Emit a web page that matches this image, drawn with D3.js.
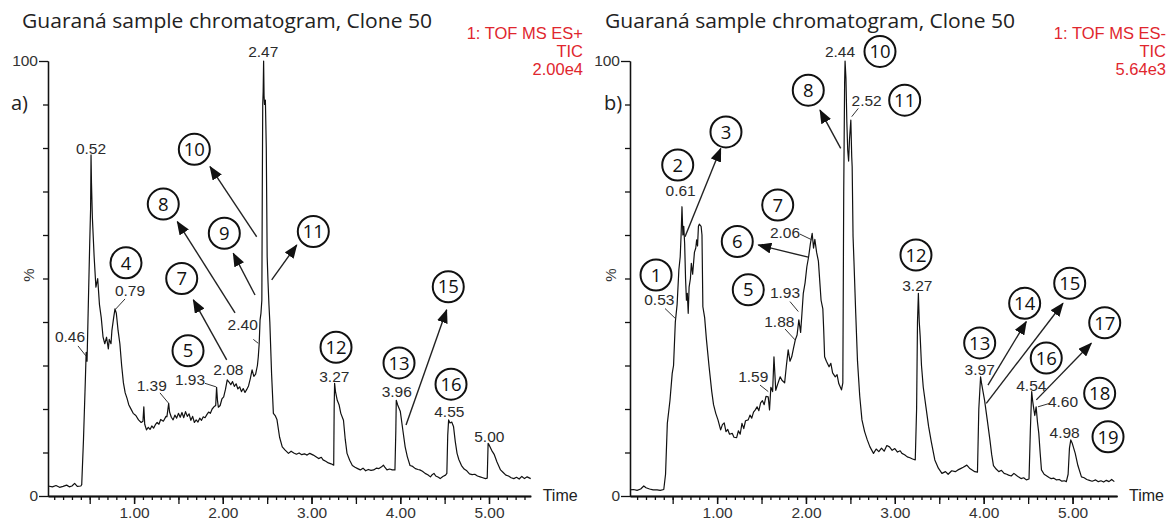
<!DOCTYPE html>
<html>
<head>
<meta charset="utf-8">
<script src="https://cdn.jsdelivr.net/npm/d3@7"></script>
<style>
  body { margin: 0; background: #fff; }
  svg { display: block; }
</style>
</head>
<body>
<div id="chart"></div>
<script>
// ---- data: [time (min), intensity (%)] ----
const traceA = [
  [0.03,2.3],[0.08,2.1],[0.12,2.4],[0.16,2.0],[0.20,2.2],[0.24,2.5],[0.27,2.1],[0.30,2.3],[0.33,2.9],[0.36,2.2],
  [0.40,2.3],[0.41,2.6],[0.43,13],[0.45,26],[0.46,33],[0.47,31],[0.48,40],[0.50,58],[0.51,66],[0.515,78.4],
  [0.52,72],[0.53,64],[0.55,55],[0.57,48],[0.59,50],[0.61,44],[0.63,41],[0.65,36.6],[0.67,35],[0.69,36.5],
  [0.71,33.8],[0.72,36],[0.74,35],[0.75,38],[0.77,41],[0.785,43],[0.80,42],[0.82,38],[0.84,35],[0.86,30],
  [0.88,26],[0.90,23.7],[0.92,22.5],[0.94,21],[0.96,20.2],[0.99,19],[1.02,18.5],[1.05,17.5],[1.08,16.9],[1.10,17.2],
  [1.11,20.5],[1.12,16.5],[1.14,15.2],[1.16,15.8],[1.18,15.3],[1.20,16.1],[1.22,15.6],[1.24,16.4],[1.26,16.9],[1.28,16.5],
  [1.30,17.6],[1.33,17.2],[1.36,18.3],[1.37,18.2],[1.39,21.3],[1.40,19.3],[1.42,18.1],[1.44,17.5],[1.46,18.6],[1.48,17.9],
  [1.50,19.0],[1.52,18.1],[1.54,19.2],[1.56,18.0],[1.58,19.4],[1.60,18.3],[1.62,18.9],[1.64,17.4],[1.66,18.3],[1.68,16.9],
  [1.70,17.5],[1.72,17.0],[1.74,17.9],[1.76,17.4],[1.78,18.2],[1.80,18.0],[1.82,18.7],[1.84,19.3],[1.86,19.0],[1.88,20.0],
  [1.90,20.5],[1.92,20.8],[1.93,25],[1.94,22],[1.95,20.4],[1.97,20.8],[1.99,22.3],[2.01,22.8],[2.03,24.5],[2.05,26.7],
  [2.07,26.2],[2.09,25.6],[2.11,26.3],[2.13,25.2],[2.15,25.8],[2.17,24.6],[2.19,25.1],[2.21,24.0],[2.23,24.7],[2.25,23.8],
  [2.27,24.5],[2.29,25.3],[2.31,27],[2.33,29],[2.35,27.5],[2.37,28],[2.39,30],[2.40,32],[2.41,35],[2.42,40.5],
  [2.43,42],[2.44,45],[2.445,70],[2.45,90],[2.455,93],[2.46,100],[2.465,92],[2.47,90],[2.48,91],[2.49,80],
  [2.50,55],[2.51,49],[2.52,44],[2.53,40],[2.55,28],[2.57,19],[2.59,18.5],[2.61,17.6],[2.64,13.5],[2.67,11.3],
  [2.70,10.6],[2.72,10.2],[2.74,9.8],[2.77,10.3],[2.80,9.9],[2.83,9.6],[2.86,9.9],[2.89,9.5],[2.92,9.7],[2.95,9.4],
  [2.98,9.8],[3.02,9.4],[3.05,9.0],[3.08,8.6],[3.11,8.9],[3.13,8.3],[3.16,8.0],[3.19,7.6],[3.22,7.4],[3.25,7.1],
  [3.255,20],[3.26,25.9],[3.27,24],[3.29,22],[3.31,21],[3.33,19],[3.36,17.4],[3.38,13],[3.40,9.8],[3.43,8.2],
  [3.46,7.0],[3.49,6.6],[3.52,6.3],[3.55,6.0],[3.58,6.4],[3.61,5.8],[3.64,6.1],[3.67,5.9],[3.70,6.0],[3.73,6.4],
  [3.76,6.3],[3.79,6.7],[3.81,7.1],[3.83,6.5],[3.85,6.0],[3.88,6.2],[3.91,6.0],[3.94,6.0],[3.95,15],[3.955,22],
  [3.97,21],[4.00,19.5],[4.03,15],[4.055,11.3],[4.08,9],[4.11,7.0],[4.14,6.8],[4.17,6.3],[4.20,6.1],[4.22,6.0],
  [4.25,5.7],[4.28,5.2],[4.31,4.9],[4.34,4.4],[4.36,4.9],[4.38,5.2],[4.40,4.6],[4.43,4.3],[4.45,4.0],[4.48,4.5],
  [4.51,4.8],[4.525,5.2],[4.535,14],[4.545,17.5],[4.56,16.8],[4.58,17.0],[4.60,16],[4.62,12.5],[4.64,9.8],[4.66,8.4],
  [4.69,7.0],[4.72,6.2],[4.75,5.8],[4.78,5.1],[4.81,4.9],[4.84,5.0],[4.87,4.6],[4.90,4.4],[4.93,4.2],[4.96,4.0],
  [4.98,4.1],[4.99,12.1],[5.00,11.8],[5.03,10.5],[5.06,9.5],[5.09,7.8],[5.13,6.0],[5.16,5.4],[5.19,4.8],[5.22,4.6],
  [5.25,4.2],[5.28,4.0],[5.31,4.3],[5.34,3.9],[5.37,4.5],[5.40,4.0],[5.43,4.4],[5.47,4.0]
];

const traceB = [
  [0.02,1.4],[0.06,1.5],[0.10,1.3],[0.14,1.6],[0.175,2.3],[0.20,1.9],[0.24,1.6],[0.28,1.4],[0.325,1.4],[0.36,1.3],
  [0.40,1.5],[0.42,5],[0.44,16.7],[0.47,22],[0.495,28.2],[0.51,30],[0.53,40],[0.55,44],[0.57,52],[0.585,55],
  [0.595,60],[0.605,66.5],[0.615,60],[0.625,62],[0.635,58],[0.645,50],[0.655,45],[0.665,46.6],[0.675,42],[0.685,48],
  [0.70,50],[0.71,53.5],[0.725,51],[0.745,56],[0.76,57],[0.77,58.9],[0.78,57.5],[0.79,62],[0.80,62.5],[0.82,62],
  [0.83,60],[0.84,43.5],[0.86,41],[0.88,36],[0.91,29.7],[0.94,24],[0.96,21],[0.985,19],[1.01,17.5],[1.04,15.2],
  [1.06,16.4],[1.08,16.8],[1.10,14.8],[1.12,15.3],[1.14,14.2],[1.17,14.4],[1.19,13.5],[1.22,13.4],[1.24,15.0],[1.26,14.2],
  [1.28,16.7],[1.30,15.5],[1.32,17.3],[1.35,17.5],[1.37,18.6],[1.39,17.9],[1.41,19.3],[1.43,19.8],[1.45,20.5],[1.47,19.6],
  [1.49,21.4],[1.51,21.9],[1.53,21.0],[1.55,22.9],[1.575,22.8],[1.59,19.8],[1.605,25],[1.625,24],[1.64,32],[1.66,24.3],
  [1.68,25.6],[1.71,27.4],[1.73,26.6],[1.76,26],[1.78,30],[1.80,33.6],[1.82,31],[1.84,32],[1.86,34],[1.88,35.9],
  [1.90,37],[1.92,40.5],[1.94,37.6],[1.955,42],[1.97,46.6],[1.99,49],[2.01,52.7],[2.03,55],[2.05,58],[2.07,60.4],
  [2.085,57],[2.10,59],[2.12,56],[2.14,54],[2.16,48],[2.17,45],[2.19,43],[2.20,38],[2.21,32],[2.23,31],
  [2.26,29.7],[2.28,30.5],[2.30,28.3],[2.33,27.4],[2.35,27.9],[2.37,25.8],[2.40,24.4],[2.415,26],[2.425,70],[2.435,95],
  [2.44,100],[2.45,96],[2.46,86],[2.47,79.5],[2.48,77],[2.49,82],[2.505,86.4],[2.515,78],[2.52,75.7],[2.53,59.6],
  [2.54,54],[2.56,42],[2.58,31],[2.605,23],[2.63,17.5],[2.66,14.8],[2.69,12.9],[2.72,11.3],[2.76,9.8],[2.79,10.8],
  [2.82,10.2],[2.85,11.0],[2.88,10.3],[2.91,11.6],[2.94,11.3],[2.97,10.5],[3.00,10.9],[3.03,10.1],[3.06,10.4],[3.08,9.8],
  [3.11,9.5],[3.14,9.0],[3.17,8.8],[3.20,8.5],[3.23,8.3],[3.245,20],[3.255,40],[3.265,46.6],[3.275,40],[3.285,36.8],
  [3.30,30],[3.32,25],[3.35,20.5],[3.38,16],[3.41,12.5],[3.45,8.3],[3.49,6.4],[3.53,5.2],[3.57,5.6],[3.60,5.0],
  [3.64,5.8],[3.68,5.6],[3.71,6.0],[3.74,6.3],[3.77,6.6],[3.81,7.1],[3.84,6.4],[3.87,6.0],[3.90,5.6],[3.93,5.5],
  [3.945,20],[3.965,27.4],[3.975,26],[4.01,22],[4.04,17.5],[4.07,12.9],[4.09,9.5],[4.11,7.0],[4.14,6.2],[4.17,5.6],
  [4.20,5.9],[4.23,5.2],[4.26,5.0],[4.28,4.8],[4.31,4.6],[4.34,5.2],[4.37,4.7],[4.39,4.4],[4.42,4.0],[4.45,4.2],
  [4.48,3.7],[4.51,3.9],[4.525,15],[4.54,24],[4.55,22],[4.565,19.8],[4.575,18.5],[4.59,20.5],[4.605,17],[4.62,14.4],
  [4.635,10],[4.65,6],[4.68,5.0],[4.71,4.6],[4.74,4.2],[4.76,4.0],[4.79,4.1],[4.82,3.7],[4.85,3.8],[4.88,3.4],
  [4.91,3.5],[4.93,3.3],[4.95,5],[4.965,11],[4.98,12.9],[4.995,12.2],[5.03,9.8],[5.06,7.0],[5.10,4.4],[5.13,4.2],
  [5.16,3.8],[5.19,3.6],[5.22,3.4],[5.26,3.7],[5.29,3.3],[5.32,3.5],[5.35,3.2],[5.38,3.6],[5.41,3.3],[5.44,3.8],[5.47,3.3]
];

// retention-time labels: [text, time, %]
const peaksA = [
  ['0.52',0.515,79.9],['0.46',0.278,36.6],['0.79',0.954,47.2],['1.39',1.199,25.5],['1.93',1.630,26.8],
  ['2.08',2.062,29.1],['2.40',2.224,39.5],['2.47',2.456,102.1],['3.27',3.257,27.6],['3.96',3.960,24.0],
  ['4.55',4.553,19.4],['5.00',5.004,13.8]
];
const peaksB = [
  ['0.53',0.350,45.1],['0.61',0.590,70.2],['2.06',1.764,60.5],['1.93',1.764,46.7],['1.88',1.700,40.1],
  ['1.59',1.407,27.6],['2.44',2.383,102.1],['2.52',2.683,91.0],['3.27',3.253,48.5],['3.97',3.955,29.1],
  ['4.54',4.536,25.5],['4.60',4.892,21.7],['4.98',4.911,14.6]
];

// small leader strokes from a label to its peak: [t1, %1, t2, %2]
const leadersA = [
  [0.368,34.5,0.458,32.2],[0.898,45.3,0.785,42.8],[1.292,23.7,1.386,21.4],
  [1.799,25.9,1.923,25.1],[2.344,36.0,2.400,35.1]
];
const leadersB = [
  [0.414,43.1,0.526,40.9],[1.933,60.2,2.065,58.9],[1.820,44.7,1.914,42.4],[1.764,38.4,1.877,35.9],
  [1.483,25.5,1.576,24.0],[2.589,89.1,2.515,87.2],[4.743,21.3,4.611,20.5]
];

// compound arrows: [from t, from %, tip t, tip %]
const arrowsA = [
  [2.382,59.6,1.856,75.7],[2.138,42.1,1.487,63.1],[2.363,46.2,2.118,55.8],
  [2.551,49.7,2.833,57.7],[2.044,31.3,1.668,45.1],[4.065,16.3,4.523,42.8]
];
const arrowsB = [
  [0.639,59.6,1.041,79.9],[2.026,54.9,1.464,57.7],[2.391,79.9,2.158,88.7],
  [4.048,25.5,4.479,40.1],[4.029,21.3,4.892,44.3],[4.592,22.1,5.211,35.1]
];

// circled compound numbers: [number, time, %]
const markersA = [
  [4,0.909,53.6],[10,1.679,79.7],[8,1.329,67.1],[9,2.017,60.4],[11,3.020,60.8],[7,1.537,50.0],
  [5,1.608,33.4],[12,3.276,34.2],[13,3.986,30.6],[15,4.541,48.1],[16,4.572,25.7]
];
const markersB = [
  [1,0.313,50.8],[2,0.557,76.1],[3,1.100,83.7],[7,1.682,66.9],[6,1.227,58.5],[5,1.351,47.4],
  [8,2.026,93.3],[10,2.833,102.2],[11,3.111,91.0],[12,3.238,55.4],[13,3.955,35.2],[14,4.461,44.3],
  [15,4.968,48.9],[16,4.704,31.7],[17,5.362,39.8],[18,5.305,23.6],[19,5.399,13.6]
];

const infoA = ['1: TOF MS ES+', 'TIC', '2.00e4'];
const infoB = ['1: TOF MS ES-', 'TIC', '5.64e3'];
const xLabels = [1, 2, 3, 4, 5];
const title = 'Guaraná sample chromatogram, Clone 50';

// ---- drawing ----
const W = 1168, H = 520;
const svg = d3.select('#chart').append('svg').attr('width', W).attr('height', H);

svg.append('defs').append('marker')
  .attr('id', 'head')
  .attr('viewBox', '0 0 14 11')
  .attr('refX', 13).attr('refY', 5.5)
  .attr('markerWidth', 14).attr('markerHeight', 11)
  .attr('markerUnits', 'userSpaceOnUse')
  .attr('orient', 'auto')
  .append('path').attr('d', 'M0,0 L14,5.5 L0,11 Z').attr('fill', '#111');

const sans = '"Liberation Sans", Arial, sans-serif';
const human = '"Open Sans", sans-serif';

function drawPanel(p) {
  const x = d3.scaleLinear().domain(p.dom).range(p.xr);
  const y = d3.scaleLinear().domain([0, 100]).range([496, 61]);
  const g = svg.append('g');

  // title, panel letter, instrument info
  g.append('text').attr('x', p.titleX).attr('y', 28)
    .attr('textLength', 410).attr('lengthAdjust', 'spacingAndGlyphs')
    .style('font-family', human).style('font-size', '20.5px').attr('fill', '#222')
    .text(title);
  g.append('text').attr('x', p.letterX).attr('y', 110)
    .style('font-family', human).style('font-size', '20px').attr('fill', '#222')
    .text(p.letter);
  g.selectAll('.info').data(p.info).enter().append('text')
    .attr('x', p.infoX).attr('y', (d, i) => 39 + i * 18)
    .attr('text-anchor', 'end')
    .style('font-family', sans).style('font-size', '16.5px').attr('fill', '#e0262e')
    .text(d => d);

  // x axis: minor, half and labelled ticks
  const xa = g.append('g').attr('transform', 'translate(0,496)');
  xa.call(d3.axisBottom(x).tickValues(d3.range(0.1, p.dom[1], 0.1)).tickSize(4).tickSizeOuter(0).tickFormat(''));
  xa.append('g').call(d3.axisBottom(x).tickValues(d3.range(0.5, p.dom[1], 0.5)).tickSize(8).tickSizeOuter(0).tickFormat(''));
  xa.append('g').call(d3.axisBottom(x).tickValues(xLabels).tickSize(8).tickPadding(3).tickSizeOuter(0).tickFormat(d3.format('.2f')));
  xa.selectAll('path,line').attr('stroke', '#111').attr('stroke-width', 1.3);
  xa.selectAll('text').style('font-family', sans).style('font-size', '15.5px').attr('fill', '#333');

  // y axis
  const ya = g.append('g').attr('transform', `translate(${p.xr[0]},0)`);
  ya.call(d3.axisLeft(y).tickValues(d3.range(10, 100, 10)).tickSize(5).tickSizeOuter(0).tickFormat(''));
  ya.append('g').call(d3.axisLeft(y).tickValues([0, 100]).tickSize(9).tickPadding(1).tickSizeOuter(0));
  ya.selectAll('path,line').attr('stroke', '#111').attr('stroke-width', 1.3);
  ya.selectAll('text').style('font-family', sans).style('font-size', '15.5px').attr('fill', '#333');

  g.append('text')
    .attr('transform', `translate(${p.xr[0] - 14},275) rotate(-90)`)
    .attr('text-anchor', 'middle')
    .style('font-family', sans).style('font-size', '15px').attr('fill', '#333')
    .text('%');
  g.append('text').attr('x', p.xr[1] + 12).attr('y', 501)
    .style('font-family', sans).style('font-size', '16px').attr('fill', '#222')
    .text('Time');

  // chromatogram trace
  const line = d3.line().x(d => x(d[0])).y(d => y(d[1]));
  g.append('path').datum(p.trace)
    .attr('d', line)
    .attr('fill', 'none').attr('stroke', '#111').attr('stroke-width', 1.2)
    .attr('stroke-linejoin', 'round');

  // label leaders
  g.selectAll('.leader').data(p.leaders).enter().append('line')
    .attr('x1', d => x(d[0])).attr('y1', d => y(d[1]))
    .attr('x2', d => x(d[2])).attr('y2', d => y(d[3]))
    .attr('stroke', '#333').attr('stroke-width', 1);

  // retention time labels
  g.selectAll('.peak').data(p.peaks).enter().append('text')
    .attr('x', d => x(d[1])).attr('y', d => y(d[2]))
    .attr('dy', '0.36em').attr('text-anchor', 'middle')
    .style('font-family', sans).style('font-size', '15.5px').attr('fill', '#2b2b2b')
    .text(d => d[0]);

  // arrows
  g.selectAll('.arrow').data(p.arrows).enter().append('line')
    .attr('x1', d => x(d[0])).attr('y1', d => y(d[1]))
    .attr('x2', d => x(d[2])).attr('y2', d => y(d[3]))
    .attr('stroke', '#222').attr('stroke-width', 1.4)
    .attr('marker-end', 'url(#head)');

  // circled numbers
  const m = g.selectAll('.marker').data(p.markers).enter().append('g')
    .attr('transform', d => `translate(${x(d[1])},${y(d[2])})`);
  m.append('circle').attr('r', 15.5)
    .attr('fill', '#fff').attr('stroke', '#111').attr('stroke-width', 2);
  m.append('text').attr('text-anchor', 'middle').attr('dy', '0.36em')
    .style('font-family', human).style('font-size', '18.5px').attr('fill', '#111')
    .text(d => d[0]);
}

drawPanel({
  dom: [0.03, 5.47], xr: [48, 530.7], trace: traceA, peaks: peaksA, leaders: leadersA,
  arrows: arrowsA, markers: markersA, info: infoA, infoX: 583, titleX: 22, letter: 'a)', letterX: 11
});
drawPanel({
  dom: [0.02, 5.50], xr: [630, 1117], trace: traceB, peaks: peaksB, leaders: leadersB,
  arrows: arrowsB, markers: markersB, info: infoB, infoX: 1166, titleX: 605, letter: 'b)', letterX: 604
});
</script>
</body>
</html>
